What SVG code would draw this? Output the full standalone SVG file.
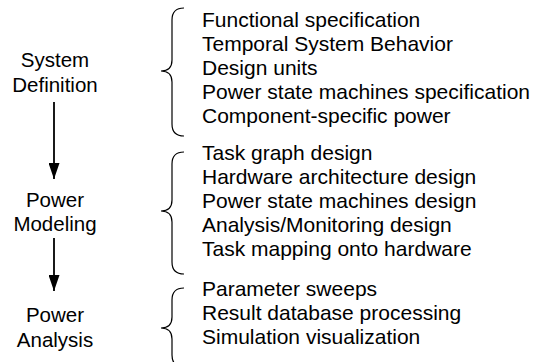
<svg xmlns="http://www.w3.org/2000/svg" width="535" height="362" viewBox="0 0 535 362">
<defs>
<style>
text{font-family:"Liberation Sans",Arial,sans-serif;font-size:21px;fill:#000}
.l{text-anchor:middle;font-size:20.5px}
.brace{fill:none;stroke:#000;stroke-width:1.2}
.arr{stroke:#000;stroke-width:1.8}
</style>
<marker id="ah" viewBox="0 0 16 11" refX="16" refY="5.5" markerWidth="16" markerHeight="11" markerUnits="userSpaceOnUse" orient="auto">
<path d="M0,0 L16,5.5 L0,11 Z" fill="#000"/>
</marker>
</defs>
<g id="connectors">
<line class="arr" x1="54" y1="102" x2="54" y2="179" marker-end="url(#ah)"/>
<line class="arr" x1="54" y1="238" x2="54" y2="291" marker-end="url(#ah)"/>
</g>
<g id="system-definition">
<text class="l" x="55" y="67">System</text>
<text class="l" x="55" y="92">Definition</text>
</g>
<g id="power-modeling">
<text class="l" x="55" y="207">Power</text>
<text class="l" x="55" y="231">Modeling</text>
</g>
<g id="power-analysis">
<text class="l" x="55" y="322">Power</text>
<text class="l" x="55" y="347">Analysis</text>
</g>
<g id="definition-items">
<path class="brace" d="M184,8 Q172,8 172,20 L172,60 Q172,71 161,71 Q172,71 172,82 L172,124 Q172,136 184,136"/>
<text x="202" y="27">Functional specification</text>
<text x="202" y="51">Temporal System Behavior</text>
<text x="202" y="75">Design units</text>
<text x="202" y="99">Power state machines specification</text>
<text x="202" y="123">Component-specific power</text>
</g>
<g id="modeling-items">
<path class="brace" d="M184,152 Q172,152 172,164 L172,200 Q172,211 161,211 Q172,211 172,222 L172,262 Q172,274 184,274"/>
<text x="202" y="160">Task graph design</text>
<text x="202" y="184">Hardware architecture design</text>
<text x="202" y="208">Power state machines design</text>
<text x="202" y="232">Analysis/Monitoring design</text>
<text x="202" y="256">Task mapping onto hardware</text>
</g>
<g id="analysis-items">
<path class="brace" d="M184,288 Q172,288 172,300 L172,317 Q172,328 161,328 Q172,328 172,339 L172,355 Q172,367 184,367"/>
<text x="202" y="296">Parameter sweeps</text>
<text x="202" y="320">Result database processing</text>
<text x="202" y="344">Simulation visualization</text>
</g>
</svg>
